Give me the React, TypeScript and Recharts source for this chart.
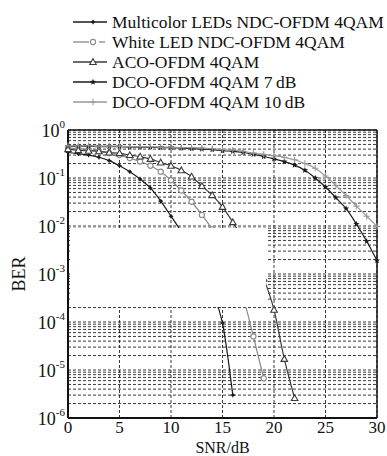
import React from "react";
import {
  LineChart,
  Line,
  XAxis,
  YAxis,
  CartesianGrid,
  ReferenceLine,
  Legend,
} from "recharts";

const FONT = "'Liberation Serif', 'Times New Roman', serif";

// SNR in dB, one point per dB
const snrDb = [
  0, 1, 2, 3, 4, 5, 6, 7, 8, 9, 10, 11, 12, 13, 14, 15, 16, 17, 18, 19, 20,
  21, 22, 23, 24, 25, 26, 27, 28, 29, 30,
];

// BER
const multicolorLeds = [
  0.34, 0.32, 0.3, 0.27, 0.23, 0.18, 0.135, 0.095, 0.062, 0.033, 0.016,
  0.0075, 0.003, 0.0011, 0.0004, 0.000095, 0.000003,
];
const whiteLed = [
  0.42, 0.41, 0.39, 0.36, 0.33, 0.3, 0.26, 0.22, 0.18, 0.135, 0.09, 0.055,
  0.032, 0.017, 0.0085, 0.0035, 0.0012, 0.00033, 0.00005, 0.0000067,
];
const acoOfdm = [
  0.4, 0.38, 0.37, 0.36, 0.34, 0.33, 0.3, 0.28, 0.25, 0.21, 0.18, 0.145,
  0.107, 0.068, 0.044, 0.025, 0.012, 0.0055, 0.0022, 0.0008, 0.00018,
  0.000017, 0.0000026,
];
const dco7dB = [
  0.46, 0.46, 0.46, 0.45, 0.45, 0.45, 0.44, 0.44, 0.44, 0.43, 0.43, 0.42,
  0.41, 0.4, 0.39, 0.37, 0.36, 0.34, 0.31, 0.28, 0.25, 0.22, 0.185, 0.145,
  0.1, 0.065, 0.039, 0.023, 0.011, 0.0048, 0.0019,
];
const dco10dB = [
  0.47, 0.47, 0.47, 0.46, 0.46, 0.46, 0.45, 0.45, 0.45, 0.44, 0.44, 0.43,
  0.43, 0.42, 0.41, 0.39, 0.38, 0.36, 0.33, 0.31, 0.29, 0.27, 0.24, 0.2,
  0.16, 0.11, 0.07, 0.043, 0.026, 0.016, 0.0098,
];

const seriesNames = [
  "Multicolor LEDs NDC-OFDM 4QAM",
  "White LED NDC-OFDM 4QAM",
  "ACO-OFDM 4QAM",
  "DCO-OFDM 4QAM 7\u2009dB",
  "DCO-OFDM 4QAM 10\u2009dB",
];

const xTicks = [0, 5, 10, 15, 20, 25, 30];
const yDecades = [1e-6, 1e-5, 1e-4, 1e-3, 1e-2, 1e-1, 1];
const yMinorSteps = [2, 3, 4, 5, 6, 7, 8, 9];

const yTicks = yDecades.flatMap((d, i) =>
  i < yDecades.length - 1 ? [d, ...yMinorSteps.map((m) => m * d)] : [d]
);

const data = snrDb.map((snr, i) => ({
  snr,
  multicolor: multicolorLeds[i],
  white: whiteLed[i],
  aco: acoOfdm[i],
  dco7: dco7dB[i],
  dco10: dco10dB[i],
}));

const colors = {
  multicolor: "#1a1a1a",
  white: "#8a8a8a",
  aco: "#3a3a3a",
  dco7: "#1a1a1a",
  dco10: "#9a9a9a",
};

// marker shapes
function markPlus(cx: number, cy: number, color: string, s: number, w: number) {
  return (
    <path
      d={`M${cx - s},${cy}h${2 * s}M${cx},${cy - s}v${2 * s}`}
      stroke={color}
      strokeWidth={w}
      fill="none"
    />
  );
}
function markSmall(cx: number, cy: number, color: string) {
  return (
    <g>
      <circle cx={cx} cy={cy} r={1.4} fill={color} />
      {markPlus(cx, cy, color, 2.2, 1.1)}
    </g>
  );
}
function markCircle(cx: number, cy: number, color: string) {
  return <circle cx={cx} cy={cy} r={2.6} fill="#fff" stroke={color} strokeWidth={1.1} />;
}
function markTriangle(cx: number, cy: number, color: string) {
  const s = 3.3;
  return (
    <path
      d={`M${cx},${cy - s}L${cx + s},${cy + s * 0.75}L${cx - s},${cy + s * 0.75}Z`}
      fill="#fff"
      stroke={color}
      strokeWidth={1.1}
    />
  );
}
function markStar(cx: number, cy: number, color: string) {
  const pts: string[] = [];
  for (let k = 0; k < 10; k++) {
    const r = k % 2 === 0 ? 3.3 : 1.4;
    const a = (Math.PI / 5) * k - Math.PI / 2;
    pts.push(`${cx + r * Math.cos(a)},${cy + r * Math.sin(a)}`);
  }
  return <polygon points={pts.join(" ")} fill={color} />;
}
function markCross(cx: number, cy: number, color: string) {
  return markPlus(cx, cy, color, 3.2, 1.1);
}

const markers = [
  (x: number, y: number) => markSmall(x, y, colors.multicolor),
  (x: number, y: number) => markCircle(x, y, colors.white),
  (x: number, y: number) => markTriangle(x, y, colors.aco),
  (x: number, y: number) => markStar(x, y, colors.dco7),
  (x: number, y: number) => markCross(x, y, colors.dco10),
];
const lineColors = [colors.multicolor, colors.white, colors.aco, colors.dco7, colors.dco10];

const makeDot = (idx: number) => (p: any) => {
  if (p.cx == null || p.cy == null || p.value == null) return <g key={p.index} />;
  return <g key={p.index}>{markers[idx](p.cx, p.cy)}</g>;
};

function LegendBox() {
  return (
    <svg width={387} height={115} style={{ display: "block" }}>
      {seriesNames.map((name, i) => {
        const base = 28 + i * 20;
        const ly = base - 6;
        return (
          <g key={name}>
            {i === 1 ? (
              <>
                <line x1={73} x2={89} y1={ly} y2={ly} stroke={lineColors[i]} strokeWidth={1.3} />
                <line x1={99} x2={105} y1={ly} y2={ly} stroke={lineColors[i]} strokeWidth={1.3} />
              </>
            ) : (
              <line x1={73} x2={107} y1={ly} y2={ly} stroke={lineColors[i]} strokeWidth={1.3} />
            )}
            {markers[i](93, ly)}
            <text x={112} y={base} fontFamily={FONT} fontSize={17.5} fill="#111">
              {name}
            </text>
          </g>
        );
      })}
    </svg>
  );
}

function YTick({ x, y, payload }: any) {
  const lg = Math.log10(payload.value);
  const e = Math.round(lg);
  if (Math.abs(lg - e) > 1e-6) return <g />;
  return (
    <text x={x} y={y + 7} textAnchor="end" fontFamily={FONT} fontSize={18} fill="#111">
      10
      <tspan dy={-9} fontSize={11}>
        {e === 0 ? "0" : `-${-e}`}
      </tspan>
    </text>
  );
}

function XTick({ x, y, payload }: any) {
  return (
    <text x={x} y={y + 15} textAnchor="middle" fontFamily={FONT} fontSize={17} fill="#111">
      {payload.value}
    </text>
  );
}

function YTitle({ viewBox }: any) {
  const cx = viewBox.x + 1;
  const cy = viewBox.y + viewBox.height / 2;
  return (
    <text
      transform={`translate(${cx},${cy}) rotate(-90)`}
      textAnchor="middle"
      dominantBaseline="central"
      fontFamily={FONT}
      fontSize={18}
      fill="#111"
    >
      BER
    </text>
  );
}

function XTitle({ viewBox }: any) {
  return (
    <text
      x={viewBox.x + viewBox.width / 2}
      y={viewBox.y + viewBox.height + 5}
      textAnchor="middle"
      fontFamily={FONT}
      fontSize={16}
      fill="#111"
    >
      SNR/dB
    </text>
  );
}

const keys = ["multicolor", "white", "aco", "dco7", "dco10"];

export default function App() {
  return (
    <div style={{ position: "absolute", left: 0, top: 0, width: 387, height: 456, background: "#fff" }}>
      <LineChart
        width={387}
        height={456}
        data={data}
        margin={{ top: 130, right: 10, bottom: 8, left: 18 }}
      >
        <CartesianGrid stroke="#222" strokeDasharray="3 2" strokeWidth={0.9} />
        <XAxis
          dataKey="snr"
          type="number"
          domain={[0, 30]}
          ticks={xTicks}
          interval={0}
          height={30}
          tickSize={0}
          tickMargin={0}
          tickLine={false}
          tick={<XTick />}
          axisLine={{ stroke: "#111", strokeWidth: 2 }}
          label={<XTitle />}
        />
        <YAxis
          scale="log"
          domain={[1e-6, 1]}
          allowDataOverflow
          ticks={yTicks}
          interval={0}
          width={50}
          tickSize={0}
          tickMargin={3}
          tickLine={false}
          tick={<YTick />}
          axisLine={{ stroke: "#111", strokeWidth: 2 }}
          label={<YTitle />}
        />
        <ReferenceLine y={1} stroke="#111" strokeWidth={1.5} />
        <ReferenceLine x={30} stroke="#111" strokeWidth={1.5} />
        <Legend
          layout="horizontal"
          verticalAlign="middle"
          align="center"
          wrapperStyle={{ left: 0, top: 0, width: 387, height: 115 }}
          content={() => <LegendBox />}
        />
        {keys.map((k, i) => (
          <Line
            key={k}
            type="monotone"
            dataKey={k}
            stroke={lineColors[i]}
            strokeWidth={1.2}
            dot={makeDot(i)}
            activeDot={false}
            isAnimationActive={false}
          />
        ))}
      </LineChart>
      <div
        style={{
          position: "absolute",
          left: 70,
          top: 227.5,
          width: 196,
          height: 79,
          background: "#fff",
        }}
      />
    </div>
  );
}
